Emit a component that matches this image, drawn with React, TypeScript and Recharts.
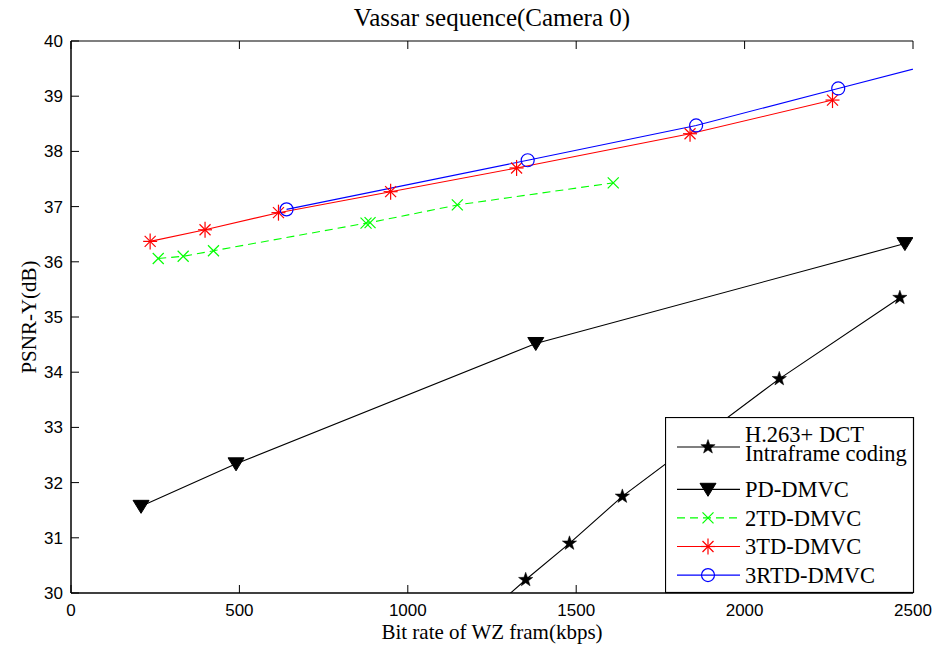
import React from 'react';
import { ComposedChart, Line, XAxis, YAxis, Legend, Label } from 'recharts';

// axis ticks
const xTicks = [0, 500, 1000, 1500, 2000, 2500];
const yTicks = [30, 31, 32, 33, 34, 35, 36, 37, 38, 39, 40];

// H.263+ DCT intraframe coding
const h263Rate = [1240, 1350, 1480, 1637, 2103, 2461];
const h263Psnr = [29.65, 30.24, 30.9, 31.75, 33.88, 35.35];
// PD-DMVC
const pdRate = [208, 490, 1380, 2476];
const pdPsnr = [31.57, 32.34, 34.52, 36.33];
// 2TD-DMVC
const td2Rate = [259, 333, 423, 876, 888, 1147, 1610];
const td2Psnr = [36.06, 36.1, 36.2, 36.7, 36.71, 37.03, 37.43];
// 3TD-DMVC
const td3Rate = [235, 398, 616, 949, 1323, 1838, 2261];
const td3Psnr = [36.37, 36.58, 36.89, 37.27, 37.7, 38.32, 38.93];
// 3RTD-DMVC
const rtdRate = [640, 1356, 1856, 2278, 2760];
const rtdPsnr = [36.95, 37.84, 38.47, 39.14, 39.9];

const zip = (xs: number[], ys: number[]) => xs.map((x, i) => ({ x, y: ys[i] }));

const series = [
  { key: 'h263', label: ['H.263+ DCT', 'Intraframe coding'], color: '#000', marker: 'star', dash: undefined, data: zip(h263Rate, h263Psnr) },
  { key: 'pd', label: ['PD-DMVC'], color: '#000', marker: 'tri', dash: undefined, data: zip(pdRate, pdPsnr) },
  { key: 'td2', label: ['2TD-DMVC'], color: '#00ff00', marker: 'x', dash: '8 5', data: zip(td2Rate, td2Psnr) },
  { key: 'td3', label: ['3TD-DMVC'], color: '#ff0000', marker: 'ast', dash: undefined, data: zip(td3Rate, td3Psnr) },
  { key: 'rtd', label: ['3RTD-DMVC'], color: '#0000ff', marker: 'circle', dash: undefined, data: zip(rtdRate, rtdPsnr) },
];

const SANS = '"Liberation Sans", Arial, sans-serif';
const SERIF = '"Liberation Serif", "Times New Roman", serif';

function Marker({ kind, cx, cy, color }: { kind: string; cx: number; cy: number; color: string }) {
  if (cx == null || cy == null) return null;
  if (kind === 'star') {
    const pts: string[] = [];
    for (let i = 0; i < 10; i++) {
      const r = i % 2 === 0 ? 7.5 : 3;
      const a = -Math.PI / 2 + (i * Math.PI) / 5;
      pts.push(`${cx + r * Math.cos(a)},${cy + r * Math.sin(a)}`);
    }
    return <polygon points={pts.join(' ')} fill={color} stroke={color} strokeWidth={0.5} />;
  }
  if (kind === 'tri') {
    return <polygon points={`${cx - 8},${cy - 6} ${cx + 8},${cy - 6} ${cx},${cy + 7}`} fill={color} stroke={color} />;
  }
  if (kind === 'x') {
    return (
      <g stroke={color} strokeWidth={1.2}>
        <line x1={cx - 5.5} y1={cy - 5.5} x2={cx + 5.5} y2={cy + 5.5} />
        <line x1={cx - 5.5} y1={cy + 5.5} x2={cx + 5.5} y2={cy - 5.5} />
      </g>
    );
  }
  if (kind === 'ast') {
    return (
      <g stroke={color} strokeWidth={1.2}>
        <line x1={cx} y1={cy - 8} x2={cx} y2={cy + 8} />
        <line x1={cx - 7} y1={cy} x2={cx + 7} y2={cy} />
        <line x1={cx - 5.5} y1={cy - 5.5} x2={cx + 5.5} y2={cy + 5.5} />
        <line x1={cx - 5.5} y1={cy + 5.5} x2={cx + 5.5} y2={cy - 5.5} />
      </g>
    );
  }
  return <circle cx={cx} cy={cy} r={6.5} fill="none" stroke={color} strokeWidth={1.2} />;
}

const BottomTick = ({ x, y, payload }: any) => (
  <g>
    <line x1={x} x2={x} y1={y} y2={y - 8} stroke="#000" />
    <text x={x} y={y + 23} textAnchor="middle" fontFamily={SANS} fontSize={17} fill="#000">{payload.value}</text>
  </g>
);
const TopTick = ({ x, y }: any) => <line x1={x} x2={x} y1={y} y2={y + 8} stroke="#000" />;
const LeftTick = ({ x, y, payload }: any) => (
  <g>
    <line x1={x} x2={x + 8} y1={y} y2={y} stroke="#000" />
    <text x={x - 8} y={y + 6} textAnchor="end" fontFamily={SANS} fontSize={17} fill="#000">{payload.value}</text>
  </g>
);
const RightTick = ({ x, y }: any) => <line x1={x} x2={x - 8} y1={y} y2={y} stroke="#000" />;

const LegendBox = () => (
  <svg width={250} height={177} style={{ display: 'block' }}>
    <rect x={0.5} y={0.5} width={248} height={175} fill="#fff" stroke="#000" strokeWidth={1.2} />
    {series.map((s, i) => {
      const ly = i === 0 ? 30 : 72.3 + (i - 1) * 28.6;
      const ty = i === 0 ? 25 : ly + 7.8;
      return (
        <g key={s.key}>
          <line x1={12} x2={75} y1={ly} y2={ly} stroke={s.color} strokeWidth={1.2} strokeDasharray={s.dash} />
          <Marker kind={s.marker} cx={43} cy={ly} color={s.color} />
          <text x={80} y={ty} fontFamily={SERIF} fontSize={22.5} fill="#000">
            {s.label.map((t, j) => (
              <tspan key={j} x={80} dy={j === 0 ? 0 : 18.5}>{t}</tspan>
            ))}
          </text>
        </g>
      );
    })}
  </svg>
);

export default function App() {
  return (
    <div style={{ position: 'absolute', left: 0, top: 0, width: 939, height: 651, background: '#fff' }}>
      <ComposedChart width={939} height={651} margin={{ top: 40, right: 26, bottom: 0, left: 11 }}>
        <XAxis dataKey="x" type="number" domain={[0, 2500]} ticks={xTicks} interval={0} allowDataOverflow
          height={58} tickSize={0} tickMargin={0} tickLine={false} tick={BottomTick} axisLine={{ stroke: '#000', strokeWidth: 1.5 }}>
          <Label value="Bit rate of WZ fram(kbps)" position="insideBottom" offset={12} style={{ fontFamily: SERIF, fontSize: 21, fill: '#000' }} />
        </XAxis>
        <XAxis xAxisId="top" orientation="top" dataKey="x" type="number" domain={[0, 2500]} ticks={xTicks} interval={0} allowDataOverflow
          height={1} tickSize={0} tickMargin={0} tickLine={false} tick={TopTick} axisLine={{ stroke: '#000', strokeWidth: 1.2 }}>
          <Label value="Vassar sequence(Camera 0)" position="top" offset={14} style={{ fontFamily: SERIF, fontSize: 25, fill: '#000' }} />
        </XAxis>
        <YAxis type="number" domain={[30, 40]} ticks={yTicks} interval={0} allowDataOverflow
          width={60} tickSize={0} tickMargin={0} tickLine={false} tick={LeftTick} axisLine={{ stroke: '#000', strokeWidth: 1.5 }}>
          <Label content={() => (
            <text x={36} y={317} transform="rotate(-90, 36, 317)" textAnchor="middle" fontFamily={SERIF} fontSize={21} fill="#000">PSNR-Y(dB)</text>
          )} />
        </YAxis>
        <YAxis yAxisId="right" orientation="right" type="number" domain={[30, 40]} ticks={yTicks} interval={0} allowDataOverflow
          width={0} tickSize={0} tickMargin={0} tickLine={false} tick={RightTick} axisLine={{ stroke: '#000', strokeWidth: 1.5 }} />
        {/* invisible series so the top/right frame axes get drawn */}
        <Line xAxisId="top" yAxisId="right" data={series[4].data} dataKey="y" stroke="none" dot={false} activeDot={false}
          legendType="none" isAnimationActive={false} />
        {series.map((s) => (
          <Line key={s.key} data={s.data} dataKey="y" type="linear" stroke={s.color} strokeWidth={1.1}
            strokeDasharray={s.dash} isAnimationActive={false} activeDot={false} legendType="none"
            dot={(p: any) => <Marker key={`${s.key}-${p.index}`} kind={s.marker} cx={p.cx} cy={p.cy} color={s.color} />} />
        ))}
        <Legend layout="vertical" align="center" verticalAlign="middle" content={LegendBox}
          wrapperStyle={{ left: 665, top: 417, width: 250, height: 177 }} />
      </ComposedChart>
    </div>
  );
}
